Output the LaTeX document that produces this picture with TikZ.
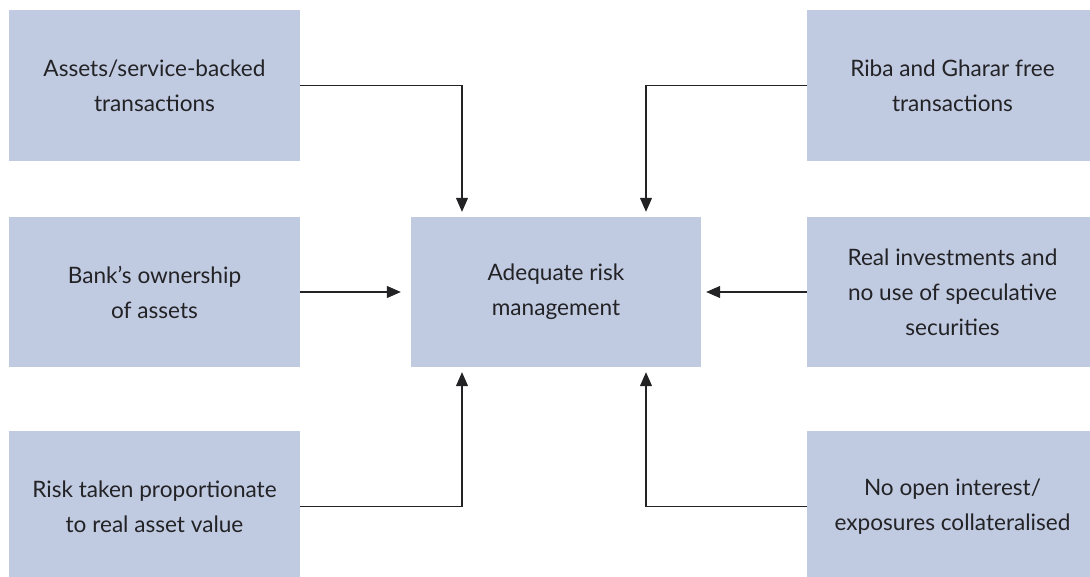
\documentclass[tikz,border=0pt]{standalone}
\usepackage{fontspec}
\setmainfont{Lato}
\usepackage{xcolor}
\usepackage{tikz}
\usetikzlibrary{positioning,arrows.meta}
\definecolor{boxblue}{RGB}{192,202,225}
\definecolor{inkgrey}{RGB}{35,35,38}

\begin{document}
\begin{tikzpicture}[x=1pt,y=-1pt,
  box/.style={fill=boxblue, minimum width=291pt, minimum height=151pt, align=center,
    text=inkgrey, font=\fontsize{22.6}{35}\selectfont, inner sep=0pt},
  link/.style={draw=inkgrey, line width=1.2pt, -{Triangle[length=14pt,width=12pt]}, shorten >=5pt}]
\useasboundingbox (0,0) rectangle (1090,577);
\clip (0,0) rectangle (1090,577);
\node[box] (assets) at (154.5,85.5) {Assets/service-backed\\transactions};
\node[box, minimum height=150pt] (bank) at (154.5,292) {Bank's ownership\\of assets};
\node[box] (risk) at (154.5,506.5) {Risk taken proportionate\\to real asset value};
\node[box, minimum width=290pt, minimum height=150pt] (centre) at (556,292) {Adequate risk\\management};
\node[box] (riba) at (952.5,85.5) {Riba and Gharar free\\transactions};
\node[box, minimum height=150pt] (invest) at (952.5,292) {Real investments and\\no use of speculative\\securities};
\node[box] (openint) at (952.5,506.5) {No open interest/\\exposures collateralised};
\draw[link] (assets.east) -| ([xshift=-94pt]centre.north);
\draw[link] (riba.west) -| ([xshift=90pt]centre.north);
\draw[link, shorten >=10pt] (bank.east) -- (centre.west);
\draw[link] (invest.west) -- (centre.east);
\draw[link] (risk.east) -| ([xshift=-94pt]centre.south);
\draw[link] (openint.west) -| ([xshift=90pt]centre.south);
\end{tikzpicture}
\end{document}
